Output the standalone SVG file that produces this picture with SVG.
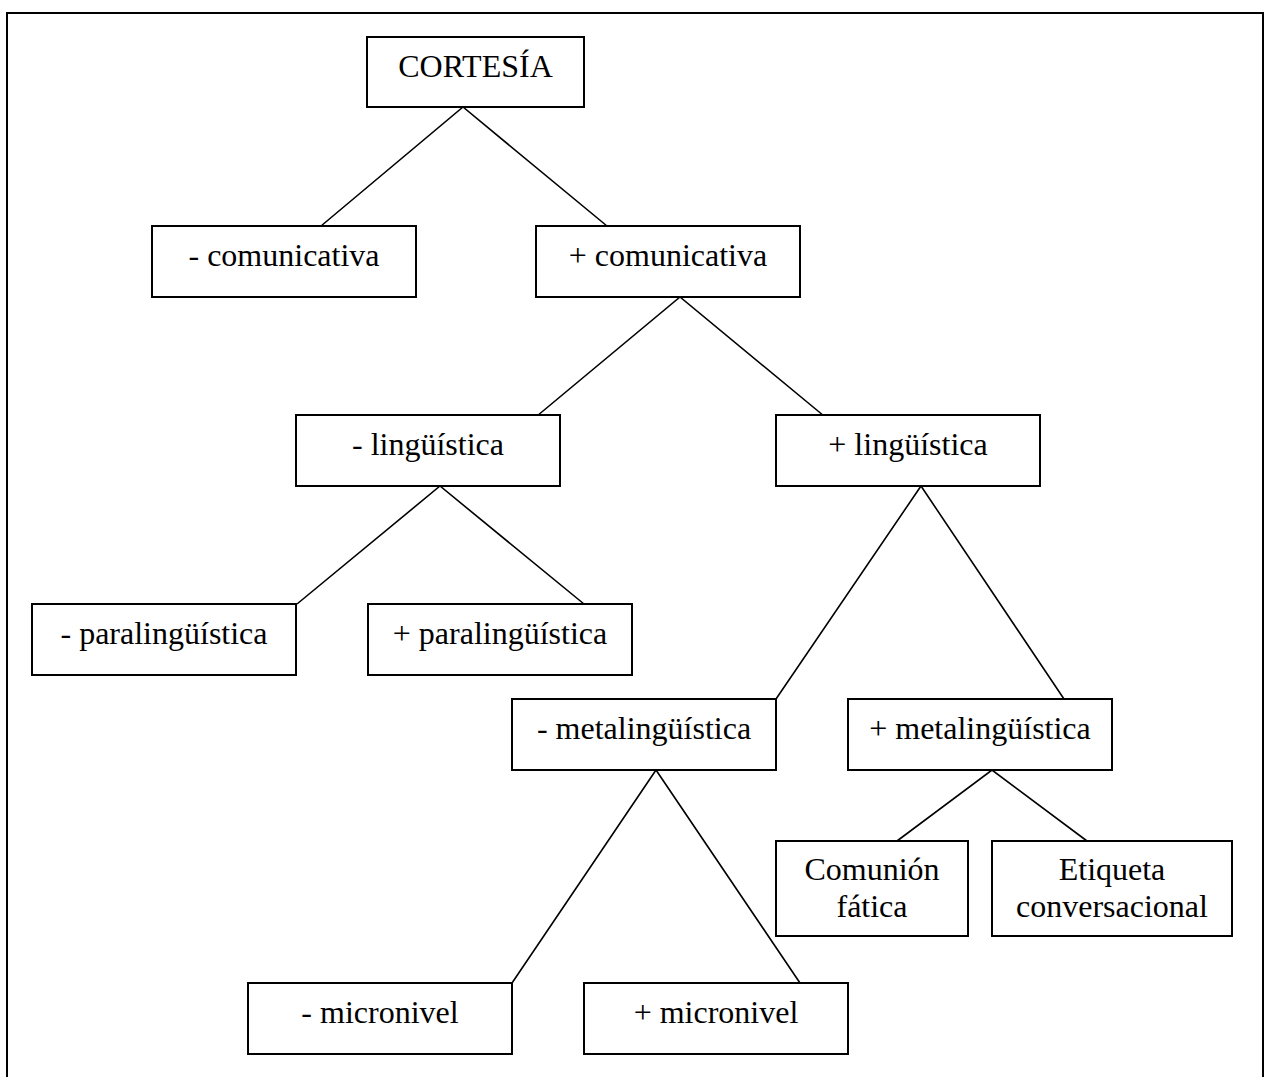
<svg xmlns="http://www.w3.org/2000/svg" width="1272" height="1077" viewBox="0 0 1272 1077">
  <style>
    .box { fill: #ffffff; stroke: #000000; stroke-width: 2; }
    .lbl { font-family: "Liberation Serif", "Times New Roman", serif; font-size: 32px; fill: #000000; text-anchor: middle; }
    .edge { stroke: #000000; stroke-width: 1.6; fill: none; }
    .frame { stroke: #000000; stroke-width: 2; fill: none; }
  </style>
  <rect width="1272" height="1077" fill="#ffffff"/>
  <!-- outer frame, open at the bottom -->
  <path class="frame" d="M 7 1077 V 13 H 1263 V 1077"/>

  <!-- tree branches -->
  <g id="connectors">
    <polyline class="edge" points="321,226 463,107 607,226"/>
    <polyline class="edge" points="537,416 680,297 824,416"/>
    <polyline class="edge" points="297,604 440,486 584,604"/>
    <polyline class="edge" points="776,699 921,486 1064,699"/>
    <polyline class="edge" points="512,983 656,770 800,983"/>
    <polyline class="edge" points="897,841 992,770 1087,841"/>
  </g>

  <g id="cortesia">
    <rect class="box" x="367" y="37" width="217" height="70"/>
    <text class="lbl" x="475.5" y="77">CORTESÍA</text>
  </g>
  <g id="menos-comunicativa">
    <rect class="box" x="152" y="226" width="264" height="71"/>
    <text class="lbl" x="284" y="266">- comunicativa</text>
  </g>
  <g id="mas-comunicativa">
    <rect class="box" x="536" y="226" width="264" height="71"/>
    <text class="lbl" x="668" y="266">+ comunicativa</text>
  </g>
  <g id="menos-linguistica">
    <rect class="box" x="296" y="415" width="264" height="71"/>
    <text class="lbl" x="428" y="455">- lingüística</text>
  </g>
  <g id="mas-linguistica">
    <rect class="box" x="776" y="415" width="264" height="71"/>
    <text class="lbl" x="908" y="455">+ lingüística</text>
  </g>
  <g id="menos-paralinguistica">
    <rect class="box" x="32" y="604" width="264" height="71"/>
    <text class="lbl" x="164" y="644">- paralingüística</text>
  </g>
  <g id="mas-paralinguistica">
    <rect class="box" x="368" y="604" width="264" height="71"/>
    <text class="lbl" x="500" y="644">+ paralingüística</text>
  </g>
  <g id="menos-metalinguistica">
    <rect class="box" x="512" y="699" width="264" height="71"/>
    <text class="lbl" x="644" y="739">- metalingüística</text>
  </g>
  <g id="mas-metalinguistica">
    <rect class="box" x="848" y="699" width="264" height="71"/>
    <text class="lbl" x="980" y="739">+ metalingüística</text>
  </g>
  <g id="comunion-fatica">
    <rect class="box" x="776" y="841" width="192" height="95"/>
    <text class="lbl" x="872" y="880">Comunión</text>
    <text class="lbl" x="872" y="917">fática</text>
  </g>
  <g id="etiqueta-conversacional">
    <rect class="box" x="992" y="841" width="240" height="95"/>
    <text class="lbl" x="1112" y="880">Etiqueta</text>
    <text class="lbl" x="1112" y="917">conversacional</text>
  </g>
  <g id="menos-micronivel">
    <rect class="box" x="248" y="983" width="264" height="71"/>
    <text class="lbl" x="380" y="1023">- micronivel</text>
  </g>
  <g id="mas-micronivel">
    <rect class="box" x="584" y="983" width="264" height="71"/>
    <text class="lbl" x="716" y="1023">+ micronivel</text>
  </g>
</svg>
